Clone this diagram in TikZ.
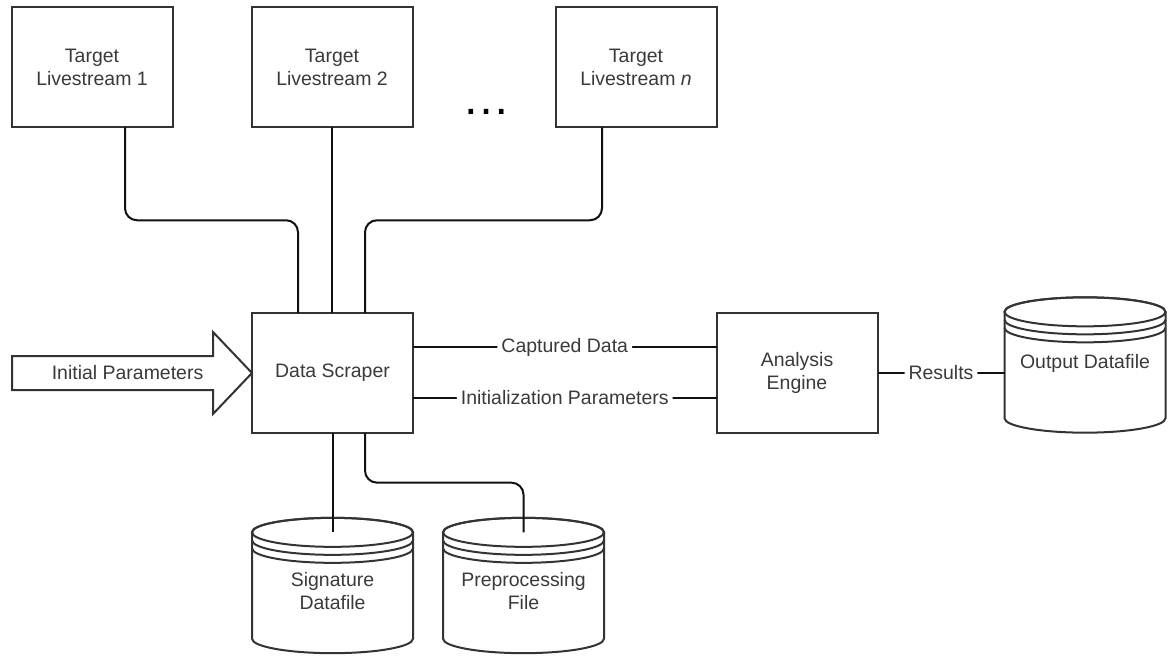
\documentclass[tikz,border=0pt]{standalone}
\usepackage{fontspec}
\setmainfont{Liberation Sans}
\usetikzlibrary{calc}

\definecolor{edgeline}{HTML}{333333}
\definecolor{wire}{HTML}{111111}
\definecolor{ink}{HTML}{3A3A3A}

\tikzset{
  x=0.75pt, y=0.75pt,
  every node/.style={font=\fontsize{14.6}{17.3}\selectfont, text=ink},
  box/.style={draw=edgeline, line width=1.5pt, fill=white, outer sep=0pt,
    minimum width=120.75pt, minimum height=90pt, align=center, inner sep=0pt},
  store/.style={outer sep=0pt, inner sep=0pt, minimum width=120.75pt,
    minimum height=101.5pt},
  storeline/.style={draw=edgeline, line width=1.5pt, fill=white},
  conn/.style={draw=wire, line width=1.5pt, rounded corners=9pt},
  lbl/.style={fill=white, inner sep=3pt},
}

% database cylinder around an (invisible) node: top ellipse, two rims, body
\newcommand\drawstore[1]{%
  \path[storeline] ($(#1.north west)+(0,-14.5)$) -- ($(#1.south west)+(0,14.5)$)
      arc[start angle=180, end angle=360, x radius=80.5, y radius=14.5]
      -- ($(#1.north east)+(0,-14.5)$)
      arc[start angle=0, end angle=180, x radius=80.5, y radius=14.5] -- cycle;
  \draw[storeline, fill=none]
      ($(#1.north)+(0,-14.5)$) ellipse [x radius=80.5, y radius=14.5]
      ($(#1.north west)+(0,-22.5)$) arc[start angle=180, end angle=360, x radius=80.5, y radius=14.5]
      ($(#1.north west)+(0,-30.5)$) arc[start angle=180, end angle=360, x radius=80.5, y radius=14.5];
}

\begin{document}
\begin{tikzpicture}
\useasboundingbox (0,0) rectangle (1173,-656);

% sources
\node[box] (t1) at (92,-67.5)  {Target\\Livestream 1};
\node[box] (t2) at (332,-67.5) {Target\\Livestream 2};
\node[box] (tn) at (636,-67.5) {Target\\Livestream \textit{n}};
\node[anchor=base, font=\fontsize{36}{36}\selectfont, text=black] (dots) at (486,-115) {\char"2026};

% processing
\node[box] (ds) at (332.5,-373) {Data Scraper};
\node[box] (ae) at (797,-373)   {Analysis\\Engine};

% data stores
\node[store] (out) at (1085,-365) {};
\node[store] (sig) at (332.5,-585.5) {};
\node[store] (pp)  at (523.5,-585.5) {};
\drawstore{out}
\drawstore{sig}
\drawstore{pp}
\node (outtxt) at ($(out.center)+(0,2)$) {Output Datafile};
\node[align=center] (sigtxt) at ($(sig.center)+(0,-6)$) {Signature\\Datafile};
\node[align=center] (pptxt)  at ($(pp.center)+(0,-6)$)  {Preprocessing\\File};

% block arrow feeding the scraper
\draw[draw=edgeline, line width=1.5pt, fill=white, line join=miter]
  (ds.west) -- ++(-39,41) -- ++(0,-24) -- ++(-201,0) -- ++(0,-34)
  -- ++(201,0) -- ++(0,-24) -- cycle;
\node[anchor=east] (ip) at (208,-373) {Initial Parameters};

% ports
\coordinate (t1out)  at ($(t1.south)+(33,0)$);
\coordinate (tnout)  at ($(tn.south)+(-34,0)$);
\coordinate (dsin1)  at ($(ds.north)+(-34.5,0)$);
\coordinate (dsin3)  at ($(ds.north)+(32.5,0)$);
\coordinate (dsout2) at ($(ds.south)+(32.5,0)$);
\coordinate (sigtop) at ($(sig.north)+(0,-14.5)$);
\coordinate (pptop)  at ($(pp.north)+(0,-14.5)$);
\coordinate (capL)   at ($(ds.east)+(0,26)$);
\coordinate (initL)  at ($(ds.east)+(0,-25)$);

% connectors
\draw[conn] (t1out) |- ($(t1out)!.5!(dsin1)$) -| (dsin1);
\draw[conn] (t2.south) -- (t2.south |- ds.north);
\draw[conn] (tnout) |- ($(tnout)!.5!(dsin3)$) -| (dsin3);
\draw[conn] (ds.south) -- (sigtop);
\draw[conn] (dsout2) |- ($(dsout2)!.5!(pptop)$) -| (pptop);
\draw[conn] (capL) -- node[lbl] {Captured Data} (capL -| ae.west);
\draw[conn] (initL) -- node[lbl] {Initialization Parameters} (initL -| ae.west);
\draw[conn] (ae.east) -- node[lbl] {Results} (ae.east -| out.west);
\end{tikzpicture}
\end{document}
